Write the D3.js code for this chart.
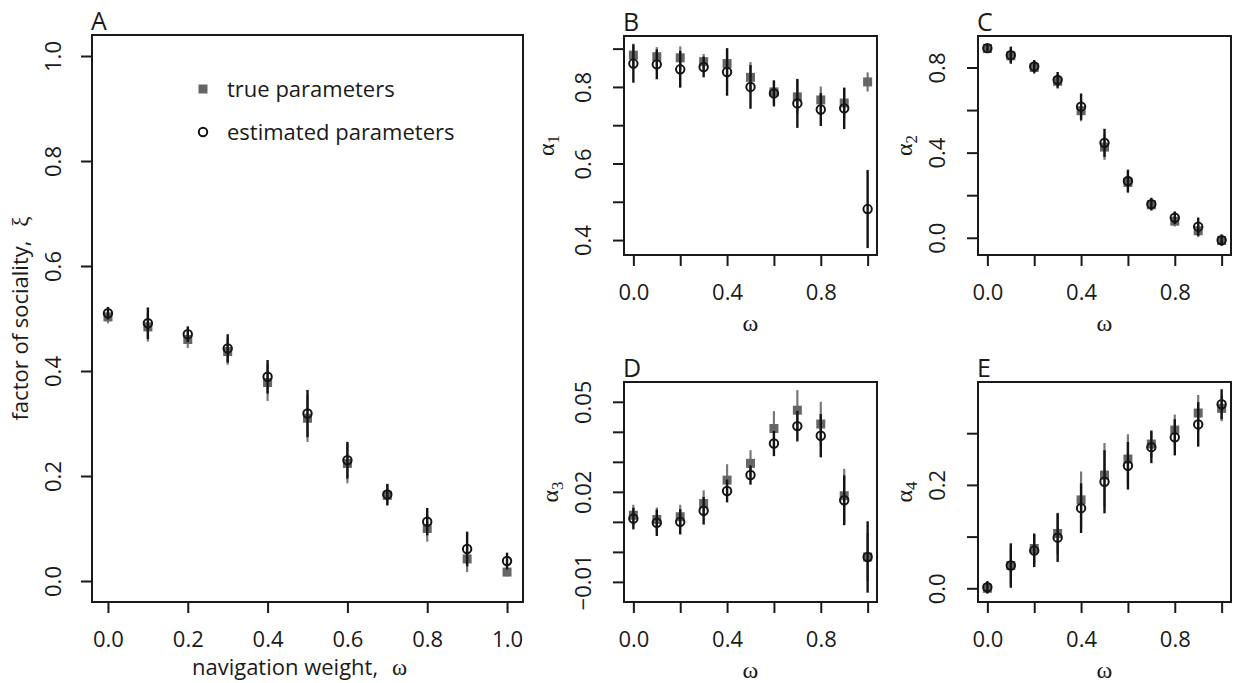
<!DOCTYPE html>
<html>
<head>
<meta charset="utf-8">
<script src="https://cdn.jsdelivr.net/npm/d3@7"></script>
<style>
body { margin: 0; background: #fff; }
text { font-family: "Open Sans", sans-serif; fill: #1a1a1a; }
.serif { font-family: "Liberation Serif", "DejaVu Serif", serif; }
</style>
</head>
<body>
<svg id="fig" width="1236" height="683"></svg>
<script>
// navigation weight, shared x values of every panel
var omega = [0, 0.1, 0.2, 0.3, 0.4, 0.5, 0.6, 0.7, 0.8, 0.9, 1.0];

// A: factor of sociality xi
var xiTrue    = [0.503, 0.484, 0.460, 0.437, 0.378, 0.310, 0.224, 0.163, 0.100, 0.042, 0.017];
var xiTrueErr = [0.012, 0.028, 0.016, 0.025, 0.035, 0.045, 0.038, 0.020, 0.025, 0.025, 0.008];
var xiEst     = [0.510, 0.491, 0.470, 0.443, 0.389, 0.319, 0.230, 0.165, 0.113, 0.061, 0.038];
var xiEstErr  = [0.012, 0.030, 0.015, 0.027, 0.032, 0.045, 0.035, 0.020, 0.026, 0.033, 0.016];

// B: alpha 1
var a1True    = [0.883, 0.879, 0.876, 0.866, 0.861, 0.825, 0.787, 0.774, 0.766, 0.758, 0.813];
var a1TrueErr = [0.030, 0.025, 0.030, 0.020, 0.040, 0.040, 0.030, 0.045, 0.035, 0.040, 0.025];
var a1Est     = [0.861, 0.859, 0.846, 0.852, 0.839, 0.800, 0.783, 0.757, 0.741, 0.744, 0.481];
var a1EstErr  = [0.050, 0.039, 0.048, 0.027, 0.062, 0.057, 0.034, 0.064, 0.043, 0.054, 0.102];

// C: alpha 2
var a2True    = [0.889, 0.855, 0.800, 0.735, 0.597, 0.426, 0.260, 0.155, 0.078, 0.033, -0.013];
var a2TrueErr = [0.012, 0.030, 0.030, 0.035, 0.050, 0.060, 0.050, 0.025, 0.025, 0.030, 0.020];
var a2Est     = [0.891, 0.858, 0.805, 0.742, 0.616, 0.446, 0.267, 0.158, 0.094, 0.052, -0.011];
var a2EstErr  = [0.015, 0.040, 0.030, 0.037, 0.062, 0.066, 0.053, 0.030, 0.030, 0.043, 0.027];

// D: alpha 3
var a3True    = [0.0122, 0.0108, 0.0117, 0.0161, 0.0239, 0.0295, 0.0411, 0.0472, 0.0426, 0.0187, -0.0017];
var a3TrueErr = [0.0035, 0.0040, 0.0040, 0.0044, 0.0053, 0.0044, 0.0058, 0.0067, 0.0074, 0.0090, 0.0080];
var a3Est     = [0.0111, 0.0097, 0.0100, 0.0137, 0.0203, 0.0256, 0.0361, 0.0419, 0.0387, 0.0172, -0.0017];
var a3EstErr  = [0.0036, 0.0044, 0.0042, 0.0046, 0.0038, 0.0032, 0.0042, 0.0051, 0.0072, 0.0083, 0.0119];

// E: alpha 4
var a4True    = [0.000, 0.044, 0.077, 0.106, 0.171, 0.219, 0.250, 0.279, 0.306, 0.339, 0.348];
var a4TrueErr = [0.010, 0.035, 0.030, 0.040, 0.055, 0.062, 0.048, 0.027, 0.030, 0.035, 0.025];
var a4Est     = [0.002, 0.044, 0.073, 0.098, 0.155, 0.206, 0.237, 0.273, 0.292, 0.317, 0.356];
var a4EstErr  = [0.012, 0.043, 0.032, 0.047, 0.048, 0.061, 0.046, 0.031, 0.035, 0.043, 0.029];

// tick positions and which of them carry a label
var xTicks = [0, 0.2, 0.4, 0.6, 0.8, 1.0];
var xLabelsSmall = [0, 0.4, 0.8];

var legendLabels = ["true parameters", "estimated parameters"];

var svg = d3.select("#fig");

//Panel layout: box = [left, top, right, bottom]
var panels = [
    {letter: "A", box: [92, 35, 523, 602], ylim: [-0.04, 1.04],
     tr: xiTrue, trErr: xiTrueErr, es: xiEst, esErr: xiEstErr,
     yTicks: [0, 0.2, 0.4, 0.6, 0.8, 1.0], yLabels: [0, 0.2, 0.4, 0.6, 0.8, 1.0], yFmt: ".1f",
     xLabels: xTicks, tickOff: 39, titleOff: 64},
    {letter: "B", box: [624, 36, 877, 255], ylim: [0.361, 0.933],
     tr: a1True, trErr: a1TrueErr, es: a1Est, esErr: a1EstErr,
     yTicks: [0.4, 0.5, 0.6, 0.7, 0.8, 0.9], yLabels: [0.4, 0.6, 0.8], yFmt: ".1f",
     xLabels: xLabelsSmall, tickOff: 41, titleOff: 70, sub: "1"},
    {letter: "C", box: [978, 36, 1231, 255], ylim: [-0.081, 0.948],
     tr: a2True, trErr: a2TrueErr, es: a2Est, esErr: a2EstErr,
     yTicks: [0, 0.2, 0.4, 0.6, 0.8], yLabels: [0, 0.4, 0.8], yFmt: ".1f",
     xLabels: xLabelsSmall, tickOff: 41, titleOff: 66, sub: "2"},
    {letter: "D", box: [624, 382, 877, 602], ylim: [-0.0167, 0.0566],
     tr: a3True, trErr: a3TrueErr, es: a3Est, esErr: a3EstErr,
     yTicks: [-0.01, 0, 0.01, 0.02, 0.03, 0.04, 0.05], yLabels: [-0.01, 0.02, 0.05], yFmt: ".2f",
     xLabels: xLabelsSmall, tickOff: 41, titleOff: 66, sub: "3"},
    {letter: "E", box: [978, 382, 1231, 602], ylim: [-0.0265, 0.399],
     tr: a4True, trErr: a4TrueErr, es: a4Est, esErr: a4EstErr,
     yTicks: [0, 0.1, 0.2, 0.3], yLabels: [0, 0.2], yFmt: ".1f",
     xLabels: xLabelsSmall, tickOff: 41, titleOff: 66, sub: "4"}
];

function hasLabel(list, v) {
    return list.some(d => Math.abs(d - v) < 1e-9);
}

panels.forEach(p => {
    var b = p.box;
    var x = d3.scaleLinear().domain([-0.04, 1.04]).range([b[0], b[2]]);
    var y = d3.scaleLinear().domain(p.ylim).range([b[3], b[1]]);
    var g = svg.append("g");

    //Box round the plot region
    g.append("rect")
        .attr("x", b[0]).attr("y", b[1])
        .attr("width", b[2] - b[0]).attr("height", b[3] - b[1])
        .attr("fill", "none").attr("stroke", "#1a1a1a").attr("stroke-width", 2);

    //Panel letter
    g.append("text")
        .attr("x", b[0] - 1).attr("y", b[1] - 5)
        .style("font-size", "25px")
        .text(p.letter);

    //x axis
    var fx = d3.format(".1f");
    var xAxis = g.append("g")
        .attr("transform", `translate(0,${b[3]})`)
        .call(d3.axisBottom(x).tickValues(xTicks).tickSize(11).tickSizeOuter(0).tickPadding(18)
            .tickFormat(d => hasLabel(p.xLabels, d) ? fx(d) : ""));
    xAxis.select(".domain").remove();
    xAxis.selectAll("line").attr("stroke", "#1a1a1a").attr("stroke-width", 2);
    xAxis.selectAll("text").style("font-size", "22px").attr("fill", "#1a1a1a")
        .style("font-family", '"Open Sans", sans-serif');

    //y axis, labels turned to run along the axis
    var fy = d3.format(p.yFmt);
    var yAxis = g.append("g")
        .attr("transform", `translate(${b[0]},0)`)
        .call(d3.axisLeft(y).tickValues(p.yTicks).tickSize(11).tickSizeOuter(0)
            .tickFormat(d => hasLabel(p.yLabels, d) ? fy(d) : ""));
    yAxis.select(".domain").remove();
    yAxis.selectAll("line").attr("stroke", "#1a1a1a").attr("stroke-width", 2);
    yAxis.selectAll("text")
        .attr("x", 0).attr("y", 0).attr("dy", "0.36em")
        .attr("text-anchor", "middle")
        .attr("transform", `translate(${-p.tickOff},0) rotate(-90)`)
        .style("font-size", "22px").attr("fill", "#1a1a1a")
        .style("font-family", '"Open Sans", sans-serif');

    var cy = (b[1] + b[3]) / 2;
    var cx = (b[0] + b[2]) / 2;
    if (p.sub) {
        //alpha_k label and omega label
        var t = g.append("text")
            .attr("class", "serif")
            .attr("transform", `translate(${b[0] - p.titleOff},${cy}) rotate(-90)`)
            .attr("text-anchor", "middle")
            .style("font-size", "24px");
        t.append("tspan").text("α");
        t.append("tspan").attr("dy", "0.3em").style("font-size", "17px").text(p.sub);
        g.append("text")
            .attr("class", "serif")
            .attr("x", cx).attr("y", b[3] + 76)
            .attr("text-anchor", "middle")
            .style("font-size", "24px")
            .text("ω");
    } else {
        var t2 = g.append("text")
            .attr("transform", `translate(${b[0] - p.titleOff},${cy}) rotate(-90)`)
            .attr("text-anchor", "middle")
            .style("font-size", "22px");
        t2.append("tspan").text("factor of sociality,");
        t2.append("tspan").attr("class", "serif").attr("dx", "0.6em").style("font-size", "23px").text("ξ");
        var t3 = g.append("text")
            .attr("x", cx - 8).attr("y", b[3] + 73)
            .attr("text-anchor", "middle")
            .style("font-size", "22px");
        t3.append("tspan").text("navigation weight,");
        t3.append("tspan").attr("class", "serif").attr("dx", "0.6em").style("font-size", "23px").text("ω");
    }

    //true parameter error bars (grey)
    g.append("g").selectAll("line")
        .data(omega)
        .enter()
        .append("line")
        .attr("x1", d => x(d)).attr("x2", d => x(d))
        .attr("y1", (d, i) => y(p.tr[i] - p.trErr[i]))
        .attr("y2", (d, i) => y(p.tr[i] + p.trErr[i]))
        .attr("stroke", "#787878").attr("stroke-width", 2.2);

    //true parameter squares
    g.append("g").selectAll("rect")
        .data(omega)
        .enter()
        .append("rect")
        .attr("x", d => x(d) - 4.5)
        .attr("y", (d, i) => y(p.tr[i]) - 4.5)
        .attr("width", 9).attr("height", 9)
        .attr("fill", "#666");

    //estimated parameter error bars (black)
    g.append("g").selectAll("line")
        .data(omega)
        .enter()
        .append("line")
        .attr("x1", d => x(d)).attr("x2", d => x(d))
        .attr("y1", (d, i) => y(p.es[i] - p.esErr[i]))
        .attr("y2", (d, i) => y(p.es[i] + p.esErr[i]))
        .attr("stroke", "#141414").attr("stroke-width", 2.4);

    //estimated parameter circles
    g.append("g").selectAll("circle")
        .data(omega)
        .enter()
        .append("circle")
        .attr("cx", d => x(d))
        .attr("cy", (d, i) => y(p.es[i]))
        .attr("r", 4.2)
        .attr("fill", "none")
        .attr("stroke", "#141414").attr("stroke-width", 2);
});

//Legend inside panel A
var leg = svg.append("g");
leg.append("rect")
    .attr("x", 198.5).attr("y", 84.5).attr("width", 9).attr("height", 9)
    .attr("fill", "#666");
leg.append("circle")
    .attr("cx", 203).attr("cy", 132).attr("r", 4.2)
    .attr("fill", "none").attr("stroke", "#141414").attr("stroke-width", 2);
leg.selectAll("text")
    .data(legendLabels)
    .enter()
    .append("text")
    .attr("x", 227)
    .attr("y", (d, i) => 89 + i * 43)
    .attr("dy", "0.35em")
    .style("font-size", "22px")
    .text(d => d);
</script>
</body>
</html>
